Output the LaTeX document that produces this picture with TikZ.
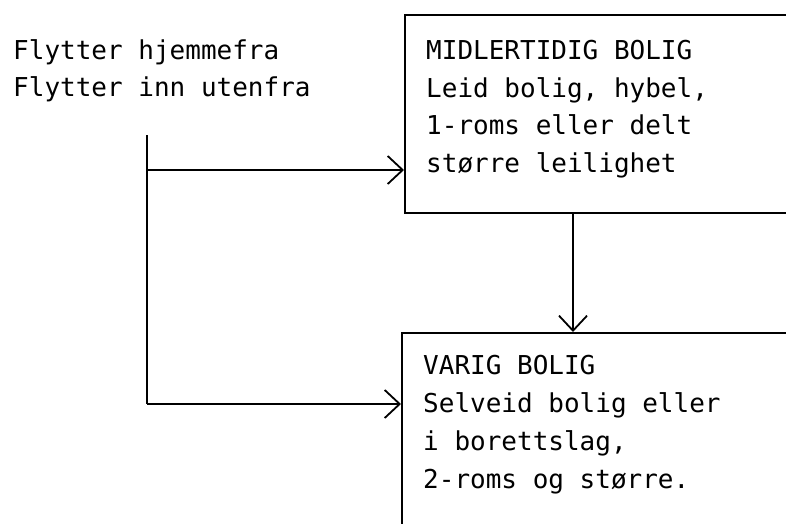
\documentclass[tikz,border=0pt]{standalone}
\usepackage{fontspec}
\setmonofont{DejaVu Sans Mono}
\usetikzlibrary{arrows.meta}
\tikzset{
  box/.style={draw, line width=1.8pt, rectangle, anchor=north west, inner sep=0pt},
  txt/.style={anchor=base west, inner sep=0pt, font=\ttfamily\fontsize{26}{30}\selectfont},
  conn/.style={line width=1.6pt},
  arr/.style={conn, -{Straight Barb[length=15pt, width=28pt, line width=1.8pt]}}
}
\begin{document}
\begin{tikzpicture}[x=1pt, y=-1pt]
\useasboundingbox (0,0) rectangle (786,524);
% boxes
\node[box, minimum width=440pt, minimum height=198pt] (midl) at (404,14) {};
\node[box, minimum width=440pt, minimum height=230pt] (varig) at (401,332) {};
% texts
\node[txt] (l1) at (13,60) {Flytter hjemmefra};
\node[txt] (l2) at (13,96) {Flytter inn utenfra};
\node[txt] (m1) at (426,60) {MIDLERTIDIG BOLIG};
\node[txt] (m2) at (426,97.5) {Leid bolig, hybel,};
\node[txt] (m3) at (426,135) {1-roms eller delt};
\node[txt] (m4) at (426,172.5) {større leilighet};
\node[txt] (v1) at (423,374) {VARIG BOLIG};
\node[txt] (v2) at (423,412) {Selveid bolig eller};
\node[txt] (v3) at (423,450) {i borettslag,};
\node[txt] (v4) at (423,488) {2-roms og større.};
% connectors
\coordinate (top) at (147,135);
\coordinate (mid) at (147,170);
\coordinate (bot) at (147,404);
\coordinate (vx) at (573,0);
\draw[conn] (top) -- (bot);
\draw[arr] (mid) -- (mid -| midl.west);
\draw[arr] (bot) -- (bot -| varig.west);
\draw[arr] (midl.south -| vx) -- (varig.north -| vx);
\end{tikzpicture}
\end{document}
